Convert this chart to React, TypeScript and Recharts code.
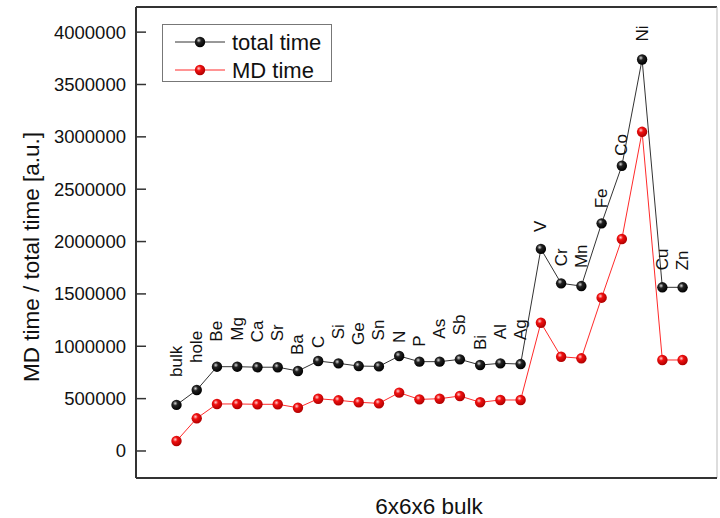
import React from 'react';
import { LineChart, Line, XAxis, YAxis, ReferenceLine, LabelList } from 'recharts';

// Structures in the 6x6x6 bulk series, in plotting order
const categories = ['bulk', 'hole', 'Be', 'Mg', 'Ca', 'Sr', 'Ba', 'C', 'Si', 'Ge', 'Sn', 'N', 'P', 'As', 'Sb', 'Bi', 'Al', 'Ag', 'V', 'Cr', 'Mn', 'Fe', 'Co', 'Ni', 'Cu', 'Zn'];

// Total run time [a.u.]
const totalTime = [440000, 582000, 805000, 805000, 800000, 800000, 764000, 859000, 837000, 811000, 808000, 907000, 853000, 853000, 875000, 821000, 837000, 830000, 1930000, 1601000, 1575000, 2174000, 2724000, 3739000, 1563000, 1563000];

// MD part of the run time [a.u.]
const mdTime = [95000, 312000, 449000, 449000, 446000, 446000, 413000, 499000, 484000, 465000, 455000, 557000, 493000, 499000, 525000, 465000, 487000, 487000, 1225000, 900000, 885000, 1464000, 2024000, 3048000, 869000, 869000];

// Y axis tick values
const yTicks = [0, 500000, 1000000, 1500000, 2000000, 2500000, 3000000, 3500000, 4000000];

// Vertical distance (px) between each point and its rotated name label
const labelGap = [28, 27, 25, 26, 25, 26, 16, 13, 24, 21, 26, 13, 15, 23, 24, 15, 24, 24, 17, 17, 18, 15, 10, 18, 17, 17];

const FONT = '"Liberation Sans", Arial, Helvetica, sans-serif';
const X_DOMAIN: [number, number] = [-2, 26.7];
const Y_DOMAIN: [number, number] = [-258000, 4240000];

const rows = categories.map((name, i) => ({
  idx: i,
  name,
  total: totalTime[i],
  md: mdTime[i],
}));

const BlackDot = (p: any) => (
  <circle key={`b-${p.index}`} cx={p.cx} cy={p.cy} r={5.2} fill="url(#ballBlack)" />
);
const RedDot = (p: any) => (
  <circle key={`r-${p.index}`} cx={p.cx} cy={p.cy} r={5.2} fill="url(#ballRed)" />
);

const NameLabel = (p: any) => {
  const { x, y, value, index } = p;
  const ty = y - (labelGap[index] ?? 20);
  return (
    <text
      x={x}
      y={ty}
      transform={`rotate(-90, ${x}, ${ty})`}
      textAnchor="start"
      dominantBaseline="central"
      fontFamily={FONT}
      fontSize={17}
      fill="#111"
    >
      {value}
    </text>
  );
};

const YTick = (p: any) => {
  const { x, y, payload } = p;
  return (
    <g>
      <line x1={x} x2={x + 10} y1={y} y2={y} stroke="#333" strokeWidth={1.5} />
      <text x={x - 10} y={y} textAnchor="end" dominantBaseline="central" fontFamily={FONT} fontSize={18.5} fill="#111">
        {payload.value}
      </text>
    </g>
  );
};

const YTitle = () => (
  <text
    x={31}
    y={257}
    transform="rotate(-90, 31, 257)"
    textAnchor="middle"
    dominantBaseline="central"
    fontFamily={FONT}
    fontSize={22.5}
    fill="#111"
  >
    MD time / total time [a.u.]
  </text>
);

const XTitle = () => (
  <text x={429} y={514} textAnchor="middle" fontFamily={FONT} fontSize={22.5} fill="#111">
    6x6x6 bulk
  </text>
);

const LegendBox = () => (
  <div
    style={{
      position: 'absolute',
      left: 162,
      top: 24,
      width: 170,
      height: 58,
      border: '1px solid #777',
      boxSizing: 'border-box',
      background: '#fff',
    }}
  >
    <svg width={168} height={56} style={{ display: 'block' }}>
      <defs>
        <radialGradient id="legBlack" cx="0.38" cy="0.35" r="0.65">
          <stop offset="0" stopColor="#d8d8d8" />
          <stop offset="0.35" stopColor="#222" />
          <stop offset="1" stopColor="#000" />
        </radialGradient>
        <radialGradient id="legRed" cx="0.38" cy="0.35" r="0.65">
          <stop offset="0" stopColor="#ffd0d0" />
          <stop offset="0.35" stopColor="#f01010" />
          <stop offset="1" stopColor="#b00000" />
        </radialGradient>
      </defs>
      <line x1={12} x2={62} y1={17} y2={17} stroke="#333" strokeWidth={1} />
      <circle cx={37} cy={17} r={5.2} fill="url(#legBlack)" />
      <text x={69} y={17} dominantBaseline="central" fontFamily={FONT} fontSize={22} fill="#111">
        total time
      </text>
      <line x1={12} x2={62} y1={45} y2={45} stroke="#ff2a2a" strokeWidth={1} />
      <circle cx={37} cy={45} r={5.2} fill="url(#legRed)" />
      <text x={69} y={45} dominantBaseline="central" fontFamily={FONT} fontSize={22} fill="#111">
        MD time
      </text>
    </svg>
  </div>
);

export default function App() {
  return (
    <div style={{ position: 'absolute', left: 0, top: 0, width: 720, height: 518, background: '#fff', overflow: 'hidden' }}>
      <LineChart width={720} height={518} data={rows} margin={{ top: 7, right: 3, bottom: 10, left: 0 }}>
        <defs>
          <radialGradient id="ballBlack" cx="0.38" cy="0.35" r="0.65">
            <stop offset="0" stopColor="#d8d8d8" />
            <stop offset="0.35" stopColor="#222" />
            <stop offset="1" stopColor="#000" />
          </radialGradient>
          <radialGradient id="ballRed" cx="0.38" cy="0.35" r="0.65">
            <stop offset="0" stopColor="#ffd0d0" />
            <stop offset="0.35" stopColor="#f01010" />
            <stop offset="1" stopColor="#b00000" />
          </radialGradient>
        </defs>
        <XAxis
          type="number"
          dataKey="idx"
          domain={X_DOMAIN}
          allowDataOverflow
          tick={false}
          tickLine={false}
          height={30}
          axisLine={{ stroke: '#333', strokeWidth: 2 }}
          label={{ content: XTitle }}
        />
        <YAxis
          type="number"
          domain={Y_DOMAIN}
          allowDataOverflow
          ticks={yTicks}
          width={136}
          tickSize={0}
          tickMargin={0}
          tickLine={false}
          tick={YTick}
          interval={0}
          axisLine={{ stroke: '#333', strokeWidth: 2 }}
          label={{ content: YTitle }}
        />
        <ReferenceLine y={Y_DOMAIN[1]} stroke="#333" strokeWidth={2} />
        <ReferenceLine x={X_DOMAIN[1]} stroke="#bbb" strokeWidth={1} />
        <Line
          type="linear"
          dataKey="md"
          stroke="#ff2a2a"
          strokeWidth={1}
          dot={RedDot}
          activeDot={false}
          isAnimationActive={false}
        />
        <Line
          type="linear"
          dataKey="total"
          stroke="#333"
          strokeWidth={1}
          dot={BlackDot}
          activeDot={false}
          isAnimationActive={false}
        >
          <LabelList dataKey="name" content={NameLabel} />
        </Line>
      </LineChart>
      <LegendBox />
    </div>
  );
}
